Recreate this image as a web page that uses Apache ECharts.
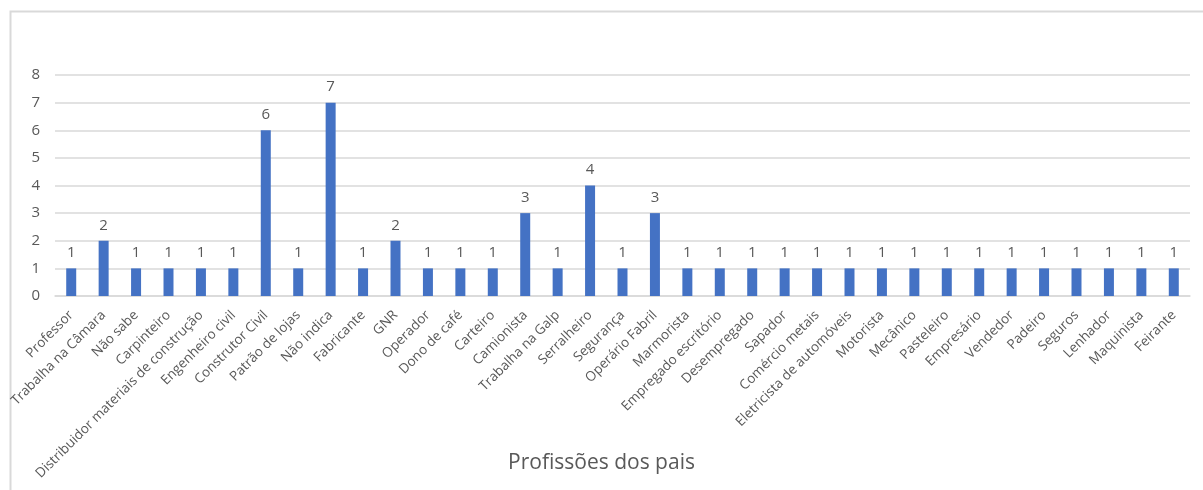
<!DOCTYPE html>
<html>
<head>
<meta charset="utf-8">
<script src="https://cdn.jsdelivr.net/npm/echarts@6/dist/echarts.min.js"></script>
<style>
  html, body { margin: 0; padding: 0; background: #fff; }
  #chart { width: 1203px; height: 490px; }
</style>
</head>
<body>
<div id="chart"></div>
<script>
// Professions of the parents and how many times each was given
const categories = [
  'Professor', 'Trabalha na Câmara', 'Não sabe', 'Carpinteiro',
  'Distribuidor materiais de construção', 'Engenheiro civil', 'Construtor Civil',
  'Patrão de lojas', 'Não indica', 'Fabricante', 'GNR', 'Operador', 'Dono de café',
  'Carteiro', 'Camionista', 'Trabalha na Galp', 'Serralheiro', 'Segurança',
  'Operário Fabril', 'Marmorista', 'Empregado escritório', 'Desempregado', 'Sapador',
  'Comércio metais', 'Eletricista de automóveis', 'Motorista', 'Mecânico', 'Pasteleiro',
  'Empresário', 'Vendedor', 'Padeiro', 'Seguros', 'Lenhador', 'Maquinista', 'Feirante'
];
const counts = [
  1, 2, 1, 1, 1, 1, 6, 1, 7, 1, 2, 1, 1, 1, 3, 1, 4, 1, 3, 1,
  1, 1, 1, 1, 1, 1, 1, 1, 1, 1, 1, 1, 1, 1, 1
];
const chartTitle = 'Profissões dos pais';

const FONT = '"Open Sans", "Noto Sans", sans-serif';
const TEXT = '#595959';
const LINE = '#d9d9d9';

const chart = echarts.init(document.getElementById('chart'), null, { renderer: 'canvas' });
chart.setOption({
  animation: false,
  backgroundColor: '#fff',
  textStyle: { fontFamily: FONT },
  graphic: [{
    type: 'rect',
    left: 8, top: 9,
    shape: { width: 1300, height: 600 },
    style: { fill: 'none', stroke: LINE, lineWidth: 2 },
    silent: true
  }],
  title: {
    text: chartTitle,
    left: 'center',
    top: 448,
    textStyle: { fontFamily: FONT, fontSize: 21, fontWeight: 'normal', color: TEXT }
  },
  grid: {
    left: 55, right: 13, top: 75, bottom: 194,
    containLabel: false,
    outerBoundsMode: 'none'
  },
  xAxis: {
    type: 'category',
    data: categories,
    axisLine: { lineStyle: { color: LINE, width: 1.5 } },
    axisTick: { show: false },
    axisLabel: {
      interval: 0,
      rotate: 45,
      margin: 17,
      color: TEXT,
      fontFamily: FONT,
      fontSize: 13.5
    }
  },
  yAxis: {
    type: 'value',
    min: 0, max: 8, interval: 1,
    axisLine: { show: false },
    axisTick: { show: false },
    axisLabel: { color: TEXT, fontFamily: FONT, fontSize: 15, margin: 15 },
    splitLine: { lineStyle: { color: LINE, width: 1.5 } }
  },
  series: [{
    type: 'bar',
    data: counts,
    barWidth: 10,
    itemStyle: { color: '#4472C4' },
    label: {
      show: true,
      position: 'top',
      distance: 8,
      color: TEXT,
      fontFamily: FONT,
      fontSize: 15
    }
  }]
});
</script>
</body>
</html>
